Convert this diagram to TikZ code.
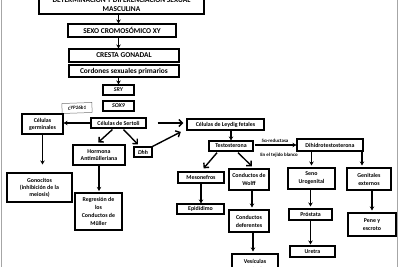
\documentclass[tikz,border=0pt]{standalone}
\usepackage{fontspec}
\setmainfont{Carlito}
\usetikzlibrary{arrows.meta}
\tikzset{
  box/.style={draw=black, line width=1.1pt, inner sep=0pt, align=center, font=\fontsize{5.9}{6.9}\selectfont\bfseries, text=black},
  bigbox/.style={box, font=\fontsize{7.4}{9}\selectfont\bfseries},
  thinbox/.style={draw=black!55, line width=0.5pt, inner sep=0pt, align=center, font=\fontsize{5}{6}\selectfont\bfseries\itshape, text=black},
  arr/.style={line width=1.4pt, -{Stealth[length=4pt,width=4.5pt]}},
  barb/.style={line width=1.4pt, -{Straight Barb[length=3.5pt,width=7pt]}},
  lbl/.style={inner sep=0pt, font=\fontsize{4.9}{5.8}\selectfont\bfseries, text=black}
}
\begin{document}
\begin{tikzpicture}[x=1pt,y=-1pt]
\useasboundingbox (0,0) rectangle (400,267);
\begin{scope}
\clip (0,0) rectangle (400,267);
\draw[black!35, line width=1pt] (1,-5) -- (1,272);
\draw[black!35, line width=1pt] (397.5,-5) -- (397.5,272);
% main column
\node[bigbox, minimum width=165pt, minimum height=21pt] (top) at (121.5,3.5) {DETERMINACIÓN Y DIFERENCIACIÓN SEXUAL\\MASCULINA};
\node[bigbox, minimum width=108pt, minimum height=13pt] (sexo) at (122,30.5) {SEXO CROMOSÓMICO XY};
\node[bigbox, minimum width=110pt, minimum height=13pt] (cresta) at (124,55.5) {CRESTA GONADAL};
\node[bigbox, minimum width=110pt, minimum height=12pt] (cordones) at (124,71) {Cordones sexuales primarios};
\node[box, minimum width=31pt, minimum height=10pt, font=\fontsize{5.9}{6.9}\selectfont\bfseries\itshape] (sry) at (118.5,90) {SRY};
\node[box, minimum width=31pt, minimum height=10pt, font=\fontsize{5.9}{6.9}\selectfont\bfseries\itshape] (sox) at (118.5,106) {SOX9};
\node[thinbox, minimum width=30pt, minimum height=10pt, rotate=2] (cyp) at (77,108) {CYP26b1};
\node[box, minimum width=55pt, minimum height=10pt] (sertoli) at (118.5,123) {Células de Sertoli};
\node[box, minimum width=41pt, minimum height=20pt] (germ) at (42.5,124) {Células\\germinales};
\node[box, minimum width=77pt, minimum height=11pt] (leydig) at (225.5,124.5) {Células de Leydig fetales};
\node[box, minimum width=52pt, minimum height=20pt] (horm) at (99,155) {Hormona\\Antimülleriana};
\node[box, minimum width=18pt, minimum height=10pt, font=\fontsize{5.9}{6.9}\selectfont\bfseries\itshape] (dhh) at (143,152) {Dhh};
\node[box, minimum width=65pt, minimum height=29pt] (gono) at (39.5,187.5) {Gonocitos\\(inhibición de la\\meiosis)};
\node[box, minimum width=47pt, minimum height=37pt, font=\fontsize{5.9}{8.2}\selectfont\bfseries] (regr) at (98.5,211.5) {Regresión de\\los\\Conductos de\\Müller};
\node[box, minimum width=44pt, minimum height=10pt] (testo) at (231,146) {Testosterona};
\node[box, minimum width=66pt, minimum height=12pt] (dht) at (330,145) {Dihidrotestosterona};
\node[box, minimum width=46pt, minimum height=11pt] (meso) at (201,177.5) {Mesonefros};
\node[box, minimum width=40pt, minimum height=21pt, font=\fontsize{5.9}{8}\selectfont\bfseries] (wolff) at (249,179.5) {Conductos de\\Wolff};
\node[box, minimum width=47pt, minimum height=10pt] (epid) at (200.5,209) {Epidídimo};
\node[box, minimum width=40pt, minimum height=22pt, font=\fontsize{5.9}{8}\selectfont\bfseries] (defer) at (249,221) {Conductos\\deferentes};
\node[box, minimum width=46pt, minimum height=22pt, font=\fontsize{5.9}{8}\selectfont\bfseries] (vesic) at (255,265) {Vesículas\\seminales};
\node[box, minimum width=47pt, minimum height=21pt, font=\fontsize{5.9}{8}\selectfont\bfseries] (seno) at (311.5,178.5) {Seno\\Urogenital};
\node[box, minimum width=44pt, minimum height=22pt, font=\fontsize{5.9}{8}\selectfont\bfseries] (genit) at (369,179) {Genitales\\externos};
\node[box, minimum width=43pt, minimum height=11pt] (prost) at (310.5,214.5) {Próstata};
\node[box, minimum width=45pt, minimum height=11pt] (uretra) at (312.5,251.5) {Uretra};
\node[box, minimum width=48pt, minimum height=23pt, font=\fontsize{5.9}{8}\selectfont\bfseries] (pene) at (372,224.5) {Pene y\\escroto};
% labels
\node[lbl] (red) at (275,141) {5α-reductasa};
\node[lbl] (tej) at (279,155.5) {En el tejido blanco};
% helper coordinates
\coordinate (dfs) at ([xshift=4pt]defer.south);
\coordinate (gnn) at ([xshift=-7pt]genit.north);
% arrows
\draw[arr] (top.south -| sry.north) -- (sexo.north -| sry.north);
\draw[arr] (sexo.south -| sry.north) -- (cresta.north -| sry.north);
\draw[arr] (cordones.south -| sry.north) -- (sry.north);
\draw[arr] (sertoli.west) -- (sertoli.west -| germ.east);
\draw[barb, shorten <=11pt, shorten >=3pt] (sertoli.east) -- (sertoli.east -| leydig.west);
\draw[barb, shorten <=1.5pt, shorten >=3pt] ([xshift=-5pt]sertoli.south) -- ([xshift=-3pt]horm.north);
\draw[barb, shorten <=1.5pt, shorten >=3pt] ([xshift=4pt]sertoli.south) -- ([xshift=-3pt]dhh.north);
\draw[barb, shorten >=3pt] (dhh.north east) -- ([xshift=-3pt]leydig.south west);
\draw[arr, shorten >=8pt] (germ.south) -- (gono.north -| germ.south);
\draw[arr, shorten >=1.5pt] (horm.south) -- (regr.north -| horm.south);
\draw[arr] (leydig.south -| testo.north) -- (testo.north);
\draw[arr, shorten <=1pt] (testo.east |- dht.west) -- (dht.west);
\draw[barb, shorten <=1.5pt, shorten >=4pt] ([xshift=-13pt]testo.south) -- (meso.north);
\draw[barb, shorten <=1.5pt, shorten >=3pt] ([xshift=6pt]testo.south) -- ([xshift=5pt]wolff.north);
\draw[arr] (meso.south) -- (epid.north -| meso.south);
\draw[arr, shorten >=2pt] ([xshift=3pt]wolff.south) -- ([xshift=3pt]defer.north);
\draw[arr, shorten >=2pt] (dfs) -- (vesic.north -| dfs);
\draw[arr, shorten >=2pt] (dht.south -| seno.north) -- (seno.north);
\draw[arr, shorten >=2pt] (dht.south -| gnn) -- (gnn);
\draw[arr, shorten >=2pt] (seno.south -| prost.north) -- (prost.north);
\draw[arr, shorten >=1pt] (prost.south) -- (uretra.north -| prost.south);
\draw[arr, shorten >=2pt] (genit.south -| pene.north) -- (pene.north);
\end{scope}
\end{tikzpicture}
\end{document}
